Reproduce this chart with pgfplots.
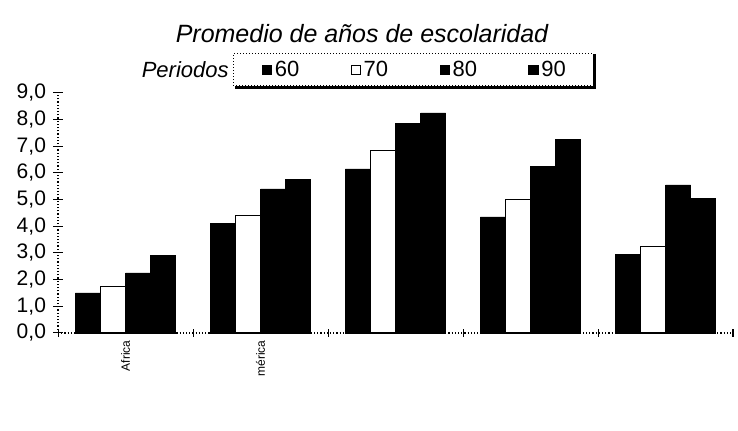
\documentclass[border=0pt]{standalone}
\usepackage{fontspec}
\setmainfont{Liberation Sans}
\usepackage{pgfplots}
\pgfplotsset{compat=1.18}

\begin{document}
\begin{tikzpicture}
\useasboundingbox (0,0) rectangle (369pt,215.5pt);

\begin{axis}[
  at={(29pt,49pt)}, anchor=south west,
  scale only axis, width=337.5pt, height=120pt,
  xmin=0, xmax=5, ymin=0, ymax=9,
  axis lines*=left,
  axis line style={black, densely dotted, line width=0.6pt},
  ybar=0pt, bar width=12.5pt,
  ytick={0,...,9},
  xtick={0.5,1.5,2.5,3.5,4.5},
  xticklabels={Africa,mérica,,,},
  minor xtick={0,1,2,3,4,5},
  major x tick style={draw=none},
  tick style={black, line width=0.5pt},
  tick align=center,
  major tick length=5pt, minor tick length=4pt,
  /pgf/number format/assume math mode=true,
  yticklabel style={font=\fontsize{10.5}{12}\selectfont,
    /pgf/number format/.cd, fixed, fixed zerofill, precision=1, use comma},
  xticklabel style={rotate=90, anchor=east, font=\fontsize{6}{7}\selectfont, inner sep=1pt},
  legend style={at={(axis description cs:0.529,1.096)}, anchor=center,
    draw=none, fill=none, legend columns=4,
    font=\fontsize{11}{13}\selectfont, inner sep=0pt,
    nodes={inner xsep=1.2pt, inner ysep=0pt},
    /tikz/every even column/.append style={column sep=24.5pt}},
  legend image code/.code={\draw[#1, draw=black, solid, line width=0.5pt] (0pt,-2.4pt) rectangle (4.8pt,2.4pt);},
  clip=false,
]
% periods 60, 70, 80, 90 for each region
\addplot[fill=black, draw=black, line width=0.4pt] coordinates {(0.5,1.50) (1.5,4.10) (2.5,6.15) (3.5,4.35) (4.5,2.95)};
\addplot[fill=white, draw=black, line width=0.6pt] coordinates {(0.5,1.75) (1.5,4.40) (2.5,6.85) (3.5,5.00) (4.5,3.25)};
\addplot[fill=black, draw=black, line width=0.4pt] coordinates {(0.5,2.25) (1.5,5.40) (2.5,7.85) (3.5,6.25) (4.5,5.55)};
\addplot[fill=black, draw=black, line width=0.4pt] coordinates {(0.5,2.90) (1.5,5.75) (2.5,8.25) (3.5,7.25) (4.5,5.05)};
\legend{60,70,80,90}
\end{axis}

% title
\node[font=\fontsize{12.5}{15}\selectfont\itshape] at (181pt,198.5pt) {Promedio de años de escolaridad};
% legend frame with shadow
\draw[black, densely dotted, line width=0.5pt] (116.5pt,172.5pt) rectangle (296.5pt,188.5pt);
\draw[black, line width=1.4pt] (117.5pt,171.8pt) -- (297.2pt,171.8pt) -- (297.2pt,188.5pt);
\node[anchor=east, font=\fontsize{11}{13}\selectfont\itshape, inner sep=0pt] at (114.5pt,180.5pt) {Periodos};
\end{tikzpicture}
\end{document}
